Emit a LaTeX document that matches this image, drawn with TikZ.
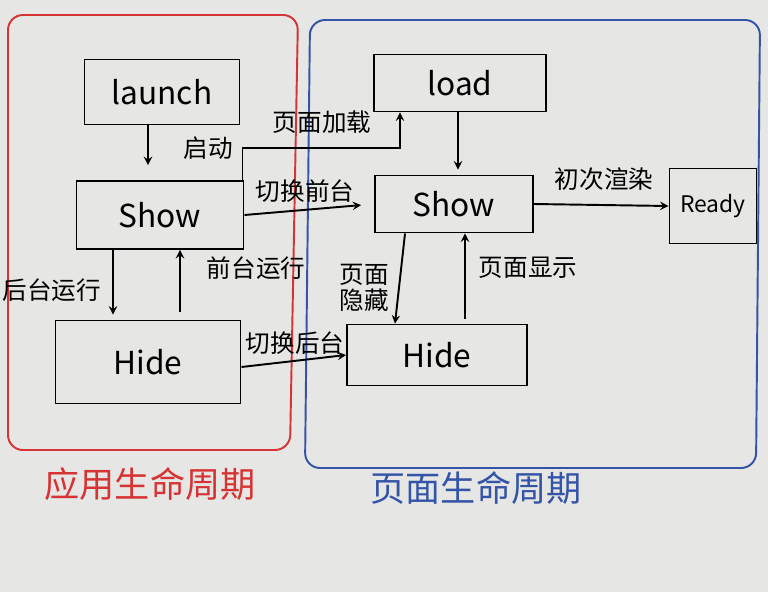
\documentclass[tikz,border=0pt]{standalone}
\usepackage{fontspec}
\setmainfont{Noto Sans CJK SC}
\usetikzlibrary{arrows}
\definecolor{appred}{RGB}{214,52,52}
\definecolor{pageblue}{RGB}{52,84,168}
\definecolor{board}{RGB}{230,230,228}

\begin{document}
\begin{tikzpicture}[> = stealth, % arrow head style
                x = 0.2mm, y = 0.2mm, % one unit is one pixel
                line width = 1.1pt % marker line
            ]

            \tikzstyle{box}=[draw = black, rectangle, line width = 1.1pt,
            font = \fontsize{18}{20}\selectfont]
            \tikzstyle{lbl}=[inner sep = 1pt, font = \fontsize{14}{15}\selectfont]
            \tikzstyle{title}=[inner sep = 1pt, font = \fontsize{20}{22}\selectfont]

            \fill[board] (0,0) rectangle (768,592);
            \useasboundingbox (0,0) rectangle (768,592);

            % frames
            \draw[appred, rounded corners = 3mm] (8,577) -- (298,577) --
            (290,142) -- (8,142) -- cycle;
            \draw[pageblue, rounded corners = 3mm] (310,572) -- (760,572) --
            (756,124) -- (305,124) -- cycle;

            % app lifecycle
            \node[box, minimum width = 31mm, minimum height = 13mm] (launch) at (162,500) {launch};
            \node[box, minimum width = 33.4mm, minimum height = 13.6mm] (ashow) at (160,377) {Show};
            \node[box, minimum width = 37mm, minimum height = 16.6mm] (ahide) at (148,230) {Hide};

            % page lifecycle
            \node[box, minimum width = 34.4mm, minimum height = 11.4mm] (load) at (460,509) {load};
            \node[box, minimum width = 31.6mm, minimum height = 11.4mm] (pshow) at (454,388) {Show};
            \node[box, minimum width = 36mm, minimum height = 12.2mm] (phide) at (437,237) {Hide};
            \node[box, minimum width = 17.4mm, minimum height = 15mm,
            font = \fontsize{13}{15}\selectfont] (ready) at (713,386) {Ready};

            \path[->] ([xshift = -2.8mm]launch.south) edge[shorten > = 3mm]
            ([xshift = -2.8mm]launch.south |- ashow.north);
            \node[lbl] (l1) at (208,444) {启动};

            \draw[->] ([xshift = -0.4mm]ashow.north east) |- (400,444) -- (400,0 |- load.south);
            \node[lbl] (l2) at (322,470) {页面加载};

            \path[->] (ashow.east) edge[shorten > = 2.6mm] (pshow.west);
            \node[lbl] (l3) at (305,401) {切换前台};

            \path[->] (113,0 |- ashow.south) edge[shorten > = 1mm] (113,0 |- ahide.north);
            \node[lbl] (l4) at (52,302) {后台运行};

            \path[->] (180,0 |- ahide.north) edge[shorten < = 1.6mm] (180,0 |- ashow.south);
            \node[lbl] (l5) at (256,324) {前台运行};

            \path[->] ([yshift = -1mm]ahide.east) edge (phide.west);
            \node[lbl] (l6) at (295,249) {切换后台};

            \path[->] (458,0 |- load.south) edge[shorten > = 1mm] (458,0 |- pshow.north);

            \path[->] (pshow.east) edge (ready.west);
            \node[lbl] (l7) at (604,413) {初次渲染};

            \path[->] (405,0 |- pshow.south) edge (395,0 |- phide.north);
            \node[lbl, align = center] (l8) at (364,304) {页面\\隐藏};

            \path[->] (465,0 |- phide.north) edge[shorten < = 1mm] (465,0 |- pshow.south);
            \node[lbl] (l9) at (528,324) {页面显示};

            % captions
            \node[title, text = appred] (t1) at (150,108) {应用生命周期};
            \node[title, text = pageblue] (t2) at (476,104) {页面生命周期};
\end{tikzpicture}
\end{document}
